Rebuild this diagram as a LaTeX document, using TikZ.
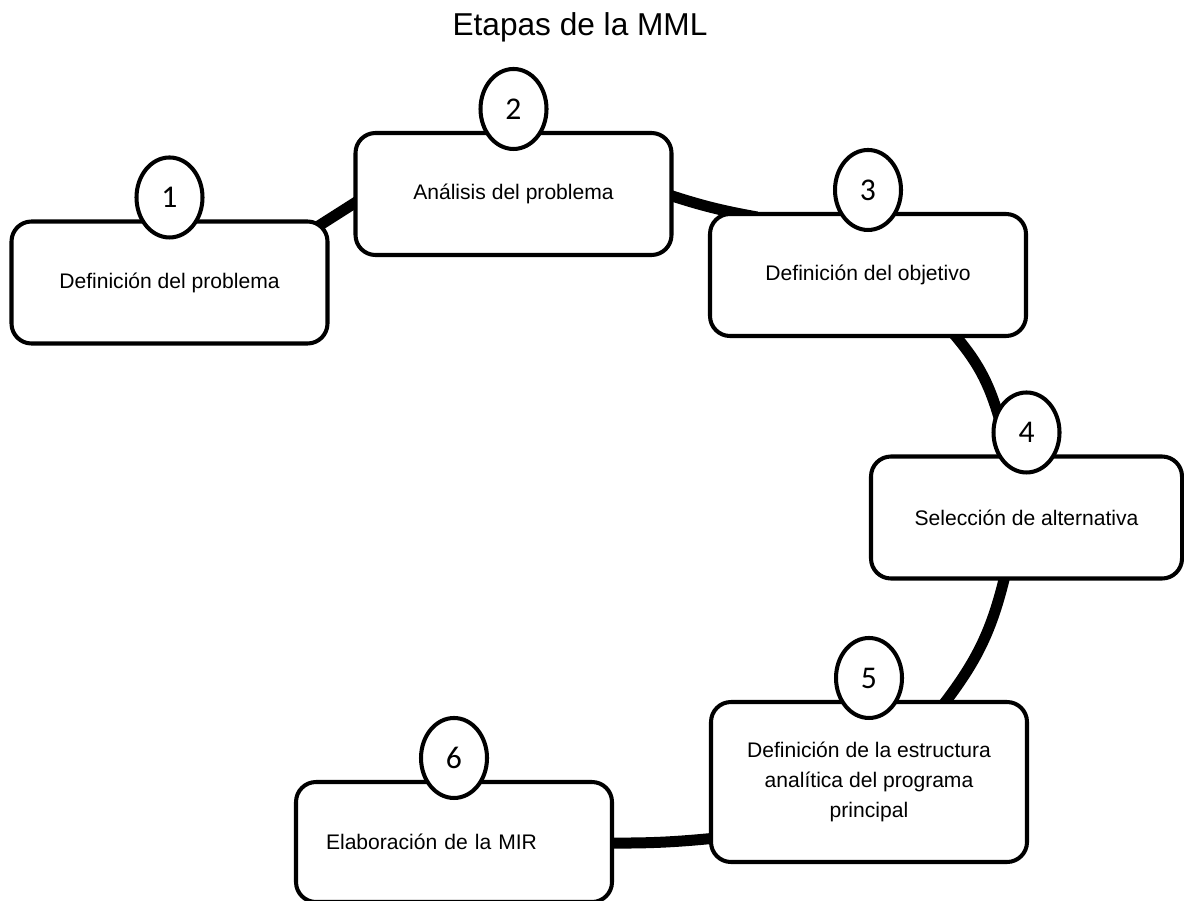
\documentclass[tikz,border=0pt]{standalone}
\usepackage{fontspec}
\setmainfont{Liberation Sans}
\newfontfamily\digitfont{Carlito}
\usetikzlibrary{%
    backgrounds,
    calc,
    positioning,
    shapes.geometric
}

\begin{document}
\begin{tikzpicture}[
    stage/.style={draw, line width=2.3pt, rounded corners=0.4cm, fill=white,
                  minimum width=6.32cm, minimum height=2.44cm,
                  font=\fontsize{12}{17}\selectfont, align=center},
    number/.style={ellipse, draw, line width=2.3pt, fill=white,
                   minimum width=1.32cm, minimum height=1.6cm, inner sep=0pt,
                   font=\digitfont\fontsize{18}{18}\selectfont},
    link/.style={line width=0.22cm},
   ]
    \useasboundingbox (0,0) rectangle (23.68,18);

    \node (title) at (11.6,17.46) {\fontsize{18}{20}\selectfont Etapas de la MML};

    \node[stage] (box1) at (3.39,12.35) {Definición del problema};
    \node[stage] (box2) at (10.27,14.12) {Análisis del problema};
    \node[stage] (box3) at (17.36,12.5) {Definición del objetivo};
    \node[stage, minimum width=6.22cm] (box4) at (20.53,7.65) {Selección de alternativa};
    \node[stage, minimum height=3.2cm] (box5) at (17.38,2.36)
        {Definición de la estructura\\ analítica del programa\\ principal};
    \node[stage, minimum height=2.4cm, align=left, text width=5.12cm,
          inner xsep=0.6cm] (box6) at (9.08,1.16) {Elaboración de la MIR};

    \foreach \Num in {1,...,6}
        \node[number] (n\Num) at ([yshift=0.44cm]box\Num.north) {\Num};

    \begin{pgfonlayer}{background}
        \draw[link] ($(box1.north east)+(-0.25,-0.15)$) -- ($(box2.west)+(0.15,-0.1)$);
        \draw[link] ($(box2.east)+(-0.15,0)$) to[bend right=4] ($(box3.north west)+(0.98,-0.1)$);
        \draw[link] ($(box3.south)+(1.7,0.1)$) to[bend left=12] ($(n4.west)+(0.15,0.3)$);
        \draw[link] ($(box4.south)+(-0.43,0.1)$) to[bend left=12] ($(box5.north)+(1.48,-0.1)$);
        \draw[link] ($(box5.west)+(0.15,-1.12)$) to[bend left=3] ($(box6.east)+(-0.15,-0.02)$);
    \end{pgfonlayer}
\end{tikzpicture}
\end{document}
